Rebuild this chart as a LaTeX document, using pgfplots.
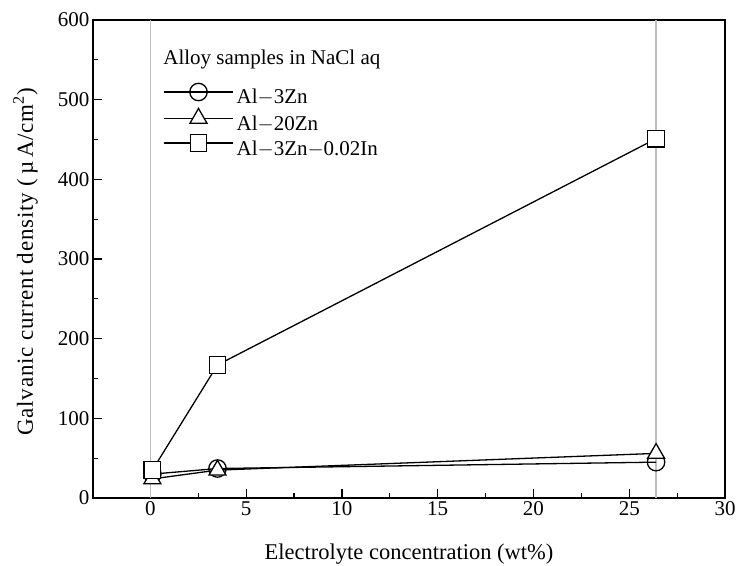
\documentclass[border=0pt]{standalone}
\usepackage{pgfplots}
\pgfplotsset{compat=1.18}
\usepackage{fontspec}
\setmainfont{Liberation Serif}
\newcommand{\chartfont}{\fontsize{21}{25}\selectfont}
\begin{document}
\begin{tikzpicture}
\begin{axis}[
    scale only axis,
    width=632pt, height=478pt,
    xmin=-3, xmax=30, ymin=0, ymax=600,
    xtick={0,5,...,30}, ytick={0,100,...,600},
    minor x tick num=1, minor y tick num=1,
    xtick pos=bottom, ytick pos=left,
    tick align=inside,
    major tick length=9pt, minor tick length=5pt,
    every tick/.style={black, line width=1.2pt},
    axis line style={line width=1.5pt},
    /pgf/number format/assume math mode=true,
    tick label style={font=\chartfont},
    xlabel={Electrolyte concentration (wt\%)},
    xlabel style={font=\fontsize{22.5}{26}\selectfont, at={(axis description cs:0.5,0)},
        anchor=base, yshift=-61pt, inner sep=0pt},
    ylabel={Galvanic current density (\,µ\,A/cm$^{\mathrm{2}}$)},
    ylabel style={font=\fontsize{23}{27}\selectfont\addfontfeature{LetterSpace=3.5},
        at={(axis description cs:0,0.494)}, anchor=base, yshift=60pt, inner sep=0pt},
    legend style={draw=none, fill=none, at={(0.111,0.868)}, anchor=north west,
        font=\chartfont, inner sep=0pt, /tikz/row sep=-2.5pt,
        nodes={inner sep=0pt, text height=15pt, text depth=7pt}},
    legend cell align=left,
    legend image code/.code={
        \draw[#1, mark=none] (0pt,8pt) -- (69pt,8pt);
        \draw[#1, only marks] plot coordinates {(34.5pt,8pt)};},
]
\coordinate (bl) at (rel axis cs:0,0);
\coordinate (tr) at (rel axis cs:1,1);
\addplot[gray!50, line width=1.2pt, forget plot] coordinates {(0,0) (0,600)};
\addplot[gray!50, line width=1.2pt, forget plot] coordinates {(26.4,0) (26.4,600)};
\node[anchor=base west, font=\chartfont, inner sep=0pt] at (axis description cs:0.111,0.906) {Alloy samples in NaCl aq};
\addplot[black, line width=1.3pt, mark=o, mark size=8.7pt, mark options={fill=white}]
  coordinates {(0.1,30) (3.5,37) (26.4,45)};
\addlegendentry{\hspace{3pt}Al$-$3Zn}
\addplot[black, line width=1.3pt, mark=triangle*, mark size=9.8pt, mark options={fill=white}]
  coordinates {(0.1,24) (3.5,35) (26.4,56)};
\addlegendentry{\hspace{3pt}Al$-$20Zn}
\addplot[black, line width=1.3pt, mark=square*, mark size=8.3pt, mark options={fill=white}]
  coordinates {(0.1,35) (3.5,167) (26.4,451)};
\addlegendentry{\hspace{3pt}Al$-$3Zn$-$0.02In}
\end{axis}
\pgfresetboundingbox
\path ([shift={(-93pt,-67pt)}]bl) rectangle ([shift={(15pt,20pt)}]tr);
\end{tikzpicture}
\end{document}
